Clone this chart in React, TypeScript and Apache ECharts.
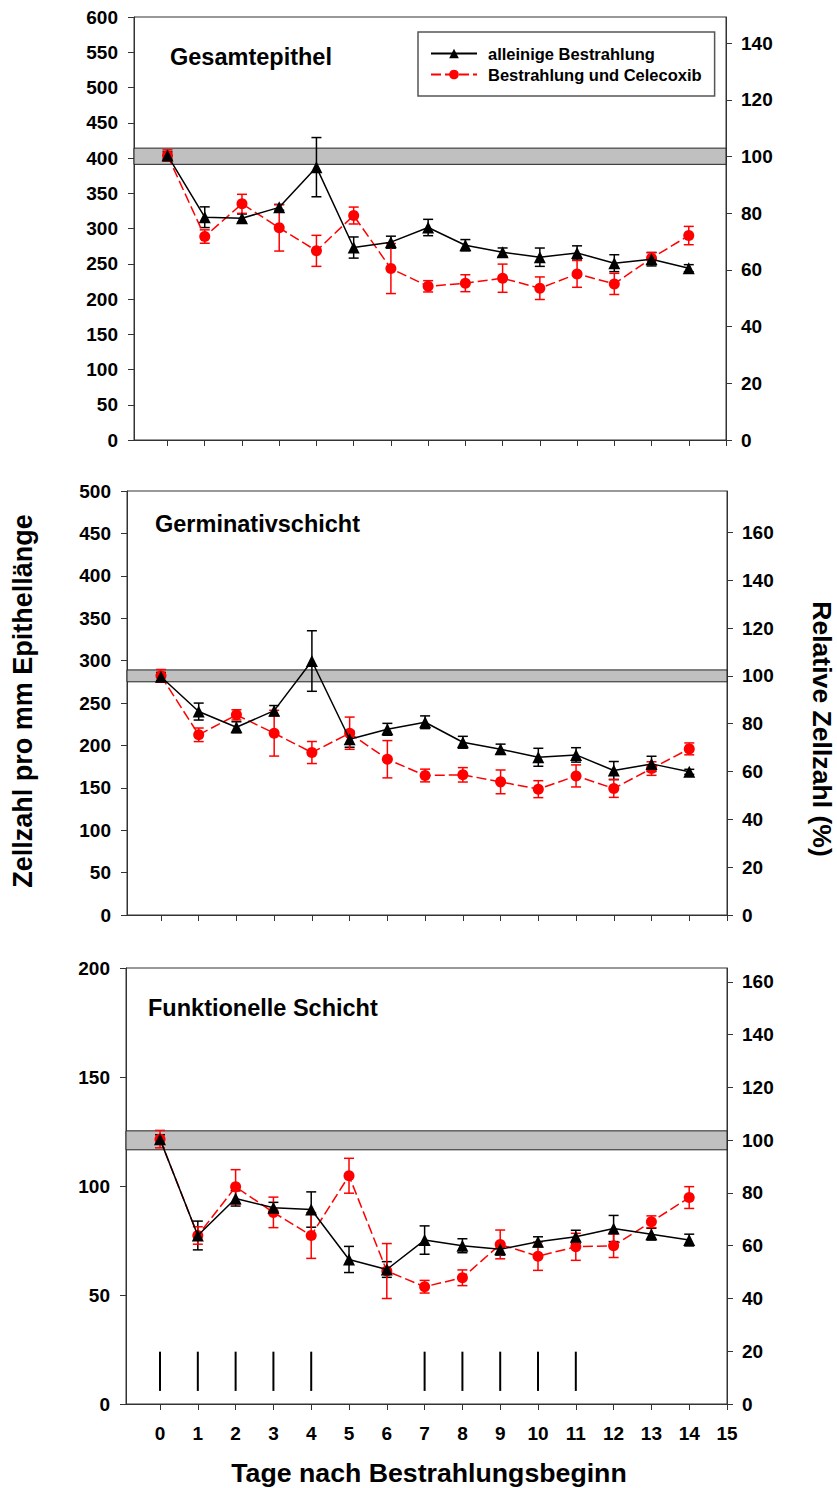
import React, { useEffect, useRef } from "react";
import * as echarts from "echarts";

// ---------- data ----------
const days = [0, 1, 2, 3, 4, 5, 6, 7, 8, 9, 10, 11, 12, 13, 14];
const xTickValues = [0, 1, 2, 3, 4, 5, 6, 7, 8, 9, 10, 11, 12, 13, 14, 15];

const seriesNames = ["alleinige Bestrahlung", "Bestrahlung und Celecoxib"];
const panelTitles = ["Gesamtepithel", "Germinativschicht", "Funktionelle Schicht"];

// Gesamtepithel
const gesRadMean = [403.6, 316, 314.6, 330, 387, 273, 280.6, 301.4, 276.3, 266.4, 259.3, 265.4, 250.8, 256.4, 243.7];
const gesRadErr = [5, 14.7, 6, 4, 42, 15, 8.5, 11.6, 8, 6, 13, 10, 12, 9.5, 5];
const gesCelMean = [403.6, 288.6, 335, 301, 268.3, 318.4, 243.2, 218, 222.4, 229.5, 215.3, 235.6, 221.4, 257.9, 290];
const gesCelErr = [8, 9.5, 13.5, 33, 22, 12, 35.5, 8, 12, 20, 16, 19, 15, 8, 13];

// Germinativschicht
const gerRadMean = [281, 239.9, 221.4, 241, 299.5, 207.3, 219, 227.3, 203.7, 195.5, 186, 188.8, 170.4, 178.2, 168.8];
const gerRadErr = [5, 10, 6.5, 6, 35.7, 9.5, 7, 7.5, 7, 6, 10.6, 8.5, 10.6, 9, 3];
const gerCelMean = [282, 212.5, 236, 214.4, 191.6, 214.4, 183.7, 164.5, 165.3, 157, 148.4, 164, 149.2, 172.7, 195.9];
const gerCelErr = [7.5, 8, 6, 27, 13, 19, 22, 7.5, 8.5, 14, 10, 13, 10.5, 8, 7];

// Funktionelle Schicht
const funRadMean = [121.5, 77.3, 94.3, 90, 89.2, 66.3, 61.7, 75.2, 72.6, 71, 74.4, 76.7, 80.5, 77.9, 75.2];
const funRadErr = [2, 6.6, 3.5, 2.5, 8.1, 6, 3.6, 6.5, 3.2, 2.7, 2.3, 3, 6, 2.7, 2.7];
const funCelMean = [121.5, 77.3, 99.6, 87.9, 77.3, 104.7, 61, 53.8, 57.9, 73.2, 67.8, 72.1, 72.6, 83.6, 94.7];
const funCelErr = [4, 4, 7.9, 7, 10.5, 8, 12.6, 2.9, 3.6, 6.6, 6.5, 6.2, 5.4, 2.7, 5];

// control (100 %) bands
const controlMean = [402, 282, 121];
const controlLow = [391, 275, 116.6];
const controlHigh = [414, 289, 125.3];

// axes
const leftMax = [600, 500, 200];
const leftInterval = [50, 50, 50];
const rightTicks = [
  [0, 20, 40, 60, 80, 100, 120, 140],
  [0, 20, 40, 60, 80, 100, 120, 140, 160],
  [0, 20, 40, 60, 80, 100, 120, 140, 160],
];

// irradiation days (vertical marks in bottom panel)
const treatmentDays = [0, 1, 2, 3, 4, 7, 8, 9, 10, 11];
const treatmentLow = 6;
const treatmentHigh = 24;

// ---------- layout / style ----------
const FONT = "'Liberation Sans', Arial, Helvetica, sans-serif";
const AXIS_COLOR = "#333";
const X_MIN = -0.9;
const X_MAX = 15;

const grids = [
  { left: 134, top: 17, width: 592, height: 423 },
  { left: 127, top: 491, width: 600, height: 424 },
  { left: 126, top: 968, width: 601, height: 436 },
];
const titlePos = [
  { left: 170, top: 45 },
  { left: 155, top: 512 },
  { left: 148, top: 996 },
];

const panels = [
  { rad: gesRadMean, radErr: gesRadErr, cel: gesCelMean, celErr: gesCelErr },
  { rad: gerRadMean, radErr: gerRadErr, cel: gerCelMean, celErr: gerCelErr },
  { rad: funRadMean, radErr: funRadErr, cel: funCelMean, celErr: funCelErr },
];

function errorBarSeries(panel: number, mean: number[], err: number[], color: string) {
  return {
    type: "custom",
    xAxisIndex: panel,
    yAxisIndex: panel * 2,
    z: 2,
    silent: true,
    data: days.map((d, i) => [d, mean[i] - err[i], mean[i] + err[i]]),
    renderItem: (params: any, api: any) => {
      const x = api.value(0);
      const lo = api.coord([x, api.value(1)]);
      const hi = api.coord([x, api.value(2)]);
      const w = 5;
      const st = { stroke: color, lineWidth: 1.5 };
      return {
        type: "group",
        children: [
          { type: "line", shape: { x1: lo[0], y1: lo[1], x2: hi[0], y2: hi[1] }, style: st },
          { type: "line", shape: { x1: lo[0] - w, y1: lo[1], x2: lo[0] + w, y2: lo[1] }, style: st },
          { type: "line", shape: { x1: hi[0] - w, y1: hi[1], x2: hi[0] + w, y2: hi[1] }, style: st },
        ],
      };
    },
  };
}

function buildOption() {
  const xAxis: any[] = [];
  const yAxis: any[] = [];
  const series: any[] = [];
  const labelStyle = { color: "#000", fontSize: 19, fontWeight: "bold", fontFamily: FONT };

  for (let p = 0; p < 3; p++) {
    xAxis.push({
      gridIndex: p,
      type: "value",
      min: X_MIN,
      max: X_MAX,
      axisLine: { show: true, onZero: false, lineStyle: { color: AXIS_COLOR, width: 1 } },
      axisTick: { show: true, inside: false, length: 6, customValues: xTickValues, lineStyle: { color: AXIS_COLOR } },
      axisLabel: { show: p === 2, customValues: xTickValues, margin: 20, ...labelStyle },
      splitLine: { show: false },
    });
    yAxis.push({
      gridIndex: p,
      type: "value",
      position: "left",
      min: 0,
      max: leftMax[p],
      interval: leftInterval[p],
      axisLine: { show: true, onZero: false, lineStyle: { color: AXIS_COLOR, width: 1 } },
      axisTick: { show: true, inside: false, length: 6, lineStyle: { color: AXIS_COLOR } },
      axisLabel: { margin: 16, ...labelStyle },
      splitLine: { show: false },
    });
    yAxis.push({
      gridIndex: p,
      type: "value",
      position: "right",
      min: 0,
      max: (leftMax[p] * 100) / controlMean[p],
      axisLine: { show: true, onZero: false, lineStyle: { color: AXIS_COLOR, width: 1 } },
      axisTick: { show: true, inside: false, length: 6, customValues: rightTicks[p], lineStyle: { color: AXIS_COLOR } },
      axisLabel: { margin: 15, customValues: rightTicks[p], ...labelStyle },
      splitLine: { show: false },
    });

    // control band
    series.push({
      type: "custom",
      xAxisIndex: p,
      yAxisIndex: p * 2,
      z: 1,
      silent: true,
      data: [[controlLow[p], controlHigh[p]]],
      renderItem: (params: any, api: any) => {
        const a = api.coord([X_MIN, api.value(1)]);
        const b = api.coord([X_MAX, api.value(0)]);
        return {
          type: "rect",
          shape: { x: a[0], y: a[1], width: b[0] - a[0], height: b[1] - a[1] },
          style: { fill: "#c0c0c0", stroke: "#222", lineWidth: 1 },
        };
      },
    });

    const pd = panels[p];
    series.push(errorBarSeries(p, pd.rad, pd.radErr, "#000"));
    series.push(errorBarSeries(p, pd.cel, pd.celErr, "#ff0000"));

    series.push({
      type: "line",
      name: seriesNames[0],
      xAxisIndex: p,
      yAxisIndex: p * 2,
      z: 4,
      data: days.map((d, i) => [d, pd.rad[i]]),
      symbol: "triangle",
      symbolSize: 12,
      itemStyle: { color: "#000" },
      lineStyle: { color: "#000", width: 1.5 },
      silent: true,
    });
    series.push({
      type: "line",
      name: seriesNames[1],
      xAxisIndex: p,
      yAxisIndex: p * 2,
      z: 3,
      data: days.map((d, i) => [d, pd.cel[i]]),
      symbol: "circle",
      symbolSize: 11,
      itemStyle: { color: "#ff0000" },
      lineStyle: { color: "#ff0000", width: 1.5, type: [10, 4] },
      silent: true,
    });
  }

  // irradiation marks
  series.push({
    type: "custom",
    xAxisIndex: 2,
    yAxisIndex: 4,
    z: 2,
    silent: true,
    data: treatmentDays.map((d) => [d]),
    renderItem: (params: any, api: any) => {
      const x = api.value(0);
      const a = api.coord([x, treatmentLow]);
      const b = api.coord([x, treatmentHigh]);
      return {
        type: "line",
        shape: { x1: a[0], y1: a[1], x2: b[0], y2: b[1] },
        style: { stroke: "#000", lineWidth: 2 },
      };
    },
  });

  return {
    animation: false,
    backgroundColor: "#fff",
    grid: grids.map((g) => ({ ...g, show: true, borderColor: AXIS_COLOR, borderWidth: 1, backgroundColor: "transparent" })),
    xAxis,
    yAxis,
    series,
    title: panelTitles.map((t, i) => ({
      text: t,
      left: titlePos[i].left,
      top: titlePos[i].top,
      padding: 0,
      textStyle: { fontSize: 23.5, fontWeight: "bold", color: "#000", fontFamily: FONT },
    })),
    legend: {
      data: seriesNames,
      orient: "vertical",
      left: 418,
      top: 32,
      padding: [13, 13, 13, 12],
      itemGap: 4,
      itemWidth: 46,
      itemHeight: 12,
      borderColor: "#555",
      borderWidth: 1.5,
      backgroundColor: "#fff",
      selectedMode: false,
      textStyle: { fontSize: 16.5, fontWeight: "bold", color: "#000", fontFamily: FONT, padding: [0, 0, 0, 6] },
    },
    graphic: [
      {
        type: "text",
        x: 429,
        y: 1459,
        style: {
          text: "Tage nach Bestrahlungsbeginn",
          fontSize: 26.7,
          fontWeight: "bold",
          fontFamily: FONT,
          fill: "#000",
          textAlign: "center",
          textVerticalAlign: "top",
        },
      },
      {
        type: "text",
        x: 23,
        y: 701,
        rotation: Math.PI / 2,
        style: {
          text: "Zellzahl pro mm Epithellänge",
          fontSize: 27,
          fontWeight: "bold",
          fontFamily: FONT,
          fill: "#000",
          textAlign: "center",
          textVerticalAlign: "middle",
        },
      },
      {
        type: "text",
        x: 822,
        y: 729,
        rotation: -Math.PI / 2,
        style: {
          text: "Relative Zellzahl (%)",
          fontSize: 26.6,
          fontWeight: "bold",
          fontFamily: FONT,
          fill: "#000",
          textAlign: "center",
          textVerticalAlign: "middle",
        },
      },
    ],
  };
}

export default function App() {
  const ref = useRef<HTMLDivElement>(null);
  useEffect(() => {
    document.body.style.margin = "0";
    if (!ref.current) return;
    const chart = echarts.init(ref.current, null, { renderer: "svg" });
    chart.setOption(buildOption() as any);
    return () => chart.dispose();
  }, []);
  return <div ref={ref} style={{ width: 837, height: 1488 }} />;
}
